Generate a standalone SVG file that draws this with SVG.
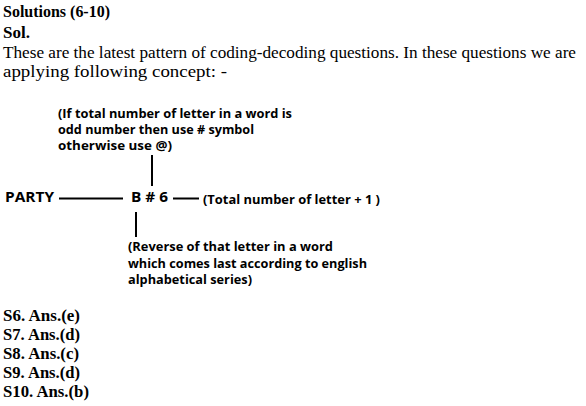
<svg xmlns="http://www.w3.org/2000/svg" width="586" height="406" viewBox="0 0 586 406">
<style>
.s{font-family:"Liberation Serif","DejaVu Serif",serif;font-size:16px;fill:#000}
.b{font-weight:bold}
.d{font-family:"Open Sans","Liberation Sans",sans-serif;font-weight:bold;font-size:11.5px;fill:#000}
.ln{stroke:#000;stroke-width:2;fill:none}
</style>
<rect width="586" height="406" fill="#fff"/>
<g id="header">
<text class="s b" x="3" y="17" textLength="107" lengthAdjust="spacingAndGlyphs">Solutions (6-10)</text>
<text class="s b" x="3" y="38" textLength="27" lengthAdjust="spacingAndGlyphs">Sol.</text>
<text class="s" x="3" y="58" textLength="573" lengthAdjust="spacingAndGlyphs">These are the latest pattern of coding-decoding questions. In these questions we are</text>
<text class="s" x="3" y="77" textLength="224" lengthAdjust="spacingAndGlyphs">applying following concept: -</text>
</g>
<g id="connectors">
<line class="ln" x1="152" y1="155" x2="152" y2="186"/>
<line class="ln" x1="59" y1="198.5" x2="123" y2="198.5"/>
<line class="ln" x1="173" y1="198.5" x2="199" y2="198.5"/>
<line class="ln" x1="136" y1="212" x2="136" y2="237"/>
</g>
<g id="node-top">
<text class="d" x="58" y="118" textLength="234" lengthAdjust="spacingAndGlyphs">(If total number of letter in a word is</text>
<text class="d" x="58" y="134" textLength="196" lengthAdjust="spacingAndGlyphs">odd number then use # symbol</text>
<text class="d" x="58" y="150" textLength="114" lengthAdjust="spacingAndGlyphs">otherwise use @)</text>
</g>
<g id="node-party">
<text class="d" x="5" y="202" style="font-size:14.5px" textLength="49" lengthAdjust="spacingAndGlyphs">PARTY</text>
</g>
<g id="node-code">
<text class="d" x="131" y="202" style="font-size:14.5px" textLength="37" lengthAdjust="spacingAndGlyphs">B # 6</text>
</g>
<g id="node-right">
<text class="d" x="203" y="204" textLength="177" lengthAdjust="spacingAndGlyphs">(Total number of letter + 1 )</text>
</g>
<g id="node-bottom">
<text class="d" x="128" y="251" textLength="205" lengthAdjust="spacingAndGlyphs">(Reverse of that letter in a word</text>
<text class="d" x="128" y="268" textLength="239" lengthAdjust="spacingAndGlyphs">which comes last according to english</text>
<text class="d" x="128" y="284" textLength="124" lengthAdjust="spacingAndGlyphs">alphabetical series)</text>
</g>
<g id="answers">
<text class="s b" x="3" y="321" textLength="77" lengthAdjust="spacingAndGlyphs">S6. Ans.(e)</text>
<text class="s b" x="3" y="340" textLength="77" lengthAdjust="spacingAndGlyphs">S7. Ans.(d)</text>
<text class="s b" x="3" y="359" textLength="76" lengthAdjust="spacingAndGlyphs">S8. Ans.(c)</text>
<text class="s b" x="3" y="378" textLength="77" lengthAdjust="spacingAndGlyphs">S9. Ans.(d)</text>
<text class="s b" x="3" y="397" textLength="86" lengthAdjust="spacingAndGlyphs">S10. Ans.(b)</text>
</g>
</svg>
